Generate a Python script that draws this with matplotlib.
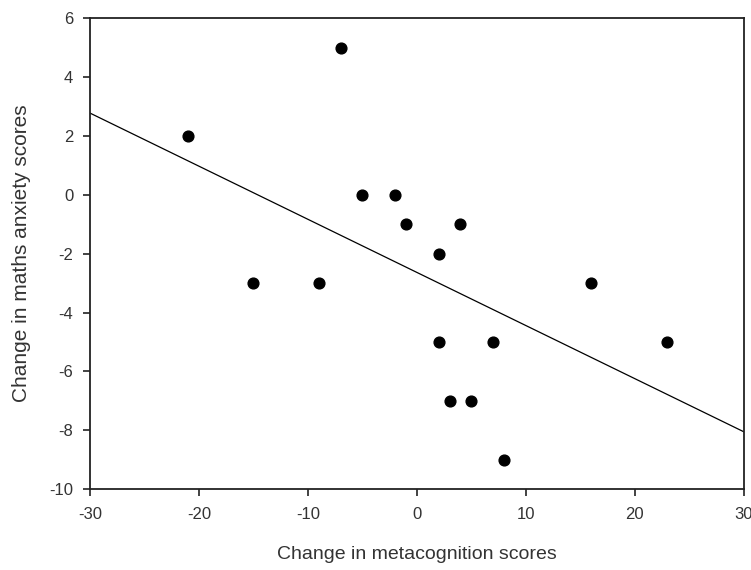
import numpy as np
import matplotlib
matplotlib.use("Agg")
import matplotlib.pyplot as plt

plt.rcParams["font.family"] = ["Liberation Sans", "DejaVu Sans"]
plt.rcParams["axes.unicode_minus"] = False

metacognition_change = [-21, -7, -15, -9, -5, -2, -1, 2, 4, 2, 3, 5, 7, 8, 16, 23]
anxiety_change = [2, 5, -3, -3, 0, 0, -1, -2, -1, -5, -7, -7, -5, -9, -3, -5]

x_ticks = [-30, -20, -10, 0, 10, 20, 30]
y_ticks = [-10, -8, -6, -4, -2, 0, 2, 4, 6]

x = np.array(metacognition_change, dtype=float)
y = np.array(anxiety_change, dtype=float)
slope, intercept = np.polyfit(x, y, 1)

fig = plt.figure(figsize=(7.51, 5.70), dpi=100)
ax = fig.add_axes([0.1198, 0.142, 0.8705, 0.826])

# fitted regression line across the full x range
line_x = np.array([x_ticks[0], x_ticks[-1]], dtype=float)
ax.plot(line_x, slope * line_x + intercept, color="black", linewidth=0.9)
ax.scatter(x, y, s=60, color="black", zorder=3)

ax.set_xlim(x_ticks[0], x_ticks[-1])
ax.set_ylim(y_ticks[0], y_ticks[-1])
ax.set_xticks(x_ticks)
ax.set_yticks(y_ticks)

for spine in ax.spines.values():
    spine.set_linewidth(1.3)
    spine.set_color("#222222")

ax.tick_params(axis="x", direction="out", length=5, width=1.2, pad=8,
               labelsize=12, labelcolor="#333333", color="#222222")
ax.tick_params(axis="y", direction="out", length=5, width=1.2, pad=7,
               labelsize=12, labelcolor="#333333", color="#222222")

ax.set_xlabel("Change in metacognition scores", fontsize=14, color="#333333", labelpad=17)
ax.set_ylabel("Change in maths anxiety scores", fontsize=15, color="#333333", labelpad=13)

fig.savefig("out.png", dpi=100)
